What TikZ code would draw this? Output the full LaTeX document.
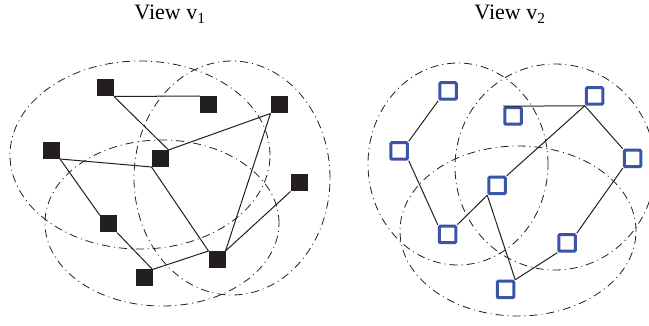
\documentclass[tikz,border=0pt]{standalone}
\usepackage{fontspec}
\setmainfont{Liberation Serif}
\definecolor{nodeblack}{HTML}{231F20}
\definecolor{nodeblue}{HTML}{3A55A8}
\definecolor{linedark}{HTML}{231F20}
\begin{document}
\begin{tikzpicture}[x=1pt,y=-1pt,
  filled/.style={rectangle, fill=nodeblack, minimum size=17pt, inner sep=0pt, outer sep=0pt},
  openbox/.style={rectangle, draw=nodeblue, line width=3pt, fill=white, minimum size=16.5pt, inner sep=0pt, rounded corners=1pt},
  link/.style={line width=1pt, draw=linedark},
  zone/.style={line width=0.8pt, draw=linedark, dash pattern=on 8pt off 4pt on 1pt off 4pt},
  title/.style={font=\fontsize{22}{26}\selectfont, anchor=base, inner sep=0pt}]
\clip (0,0) rectangle (649,326);
\fill[white] (0,0) rectangle (649,326);

% titles
\node[title] (t1) at (170,20) {View v\textsubscript{1}};
\node[title] (t2) at (510,20) {View v\textsubscript{2}};

% left zones
\draw[zone] (140,155) ellipse [x radius=130pt, y radius=94pt];
\draw[zone] (232,178) ellipse [x radius=98pt, y radius=117pt];
\draw[zone] (162,223) ellipse [x radius=117pt, y radius=83pt];

% right zones
\draw[zone] (458,164) ellipse [x radius=90pt, y radius=101pt];
\draw[zone] (555,167) ellipse [x radius=100pt, y radius=103pt];
\draw[zone] (518,231) ellipse [x radius=118pt, y radius=85pt];

% left nodes
\node[filled] (A) at (105.5,88) {};
\node[filled] (B) at (208.5,104.5) {};
\node[filled] (C) at (279,105) {};
\node[filled] (D) at (51.5,150.5) {};
\node[filled] (E) at (160,158.5) {};
\node[filled] (F) at (299,183) {};
\node[filled] (G) at (108.5,224) {};
\node[filled] (H) at (217,259.5) {};
\node[filled] (I) at (144,278) {};

\draw[link] (A.south east) -- (B.north west);
\draw[link] (A.south east) -- (E.north east);
\draw[link] (D.south east) -- (E.south west);
\draw[link] (E.north east) -- (C.south west);
\draw[link] (E.south west) -- (H.north west);
\draw[link] (C.south west) -- (H.north east);
\draw[link] (F.south west) -- (H.north east);
\draw[link] (D.south east) -- (G.north west);
\draw[link] (G.south east) -- (I.north east);
\draw[link] (I.north east) -- (H.north west);

% right nodes
\node[openbox] (a) at (448,91) {};
\node[openbox] (b) at (513,116) {};
\node[openbox] (c) at (594.5,96) {};
\node[openbox] (d) at (399,151) {};
\node[openbox] (e) at (632.5,158.5) {};
\node[openbox] (f) at (497,185.5) {};
\node[openbox] (g) at (447.5,234.5) {};
\node[openbox] (h) at (567,243) {};
\node[openbox] (i) at (505.5,289.5) {};

\draw[link] (a.south west) -- (d.north east);
\draw[link] (d.south east) -- (g.north west);
\draw[link] (g.north east) -- (f.south west);
\draw[link] (f.north east) -- (c.south west);
\draw[link] (b.north west) -- (c.south west);
\draw[link] (c.south west) -- (e.north west);
\draw[link] (e.south west) -- (h.north east);
\draw[link] (h.south west) -- (i.north east);
\draw[link] (f.south west) -- (i.north east);
\end{tikzpicture}
\end{document}
